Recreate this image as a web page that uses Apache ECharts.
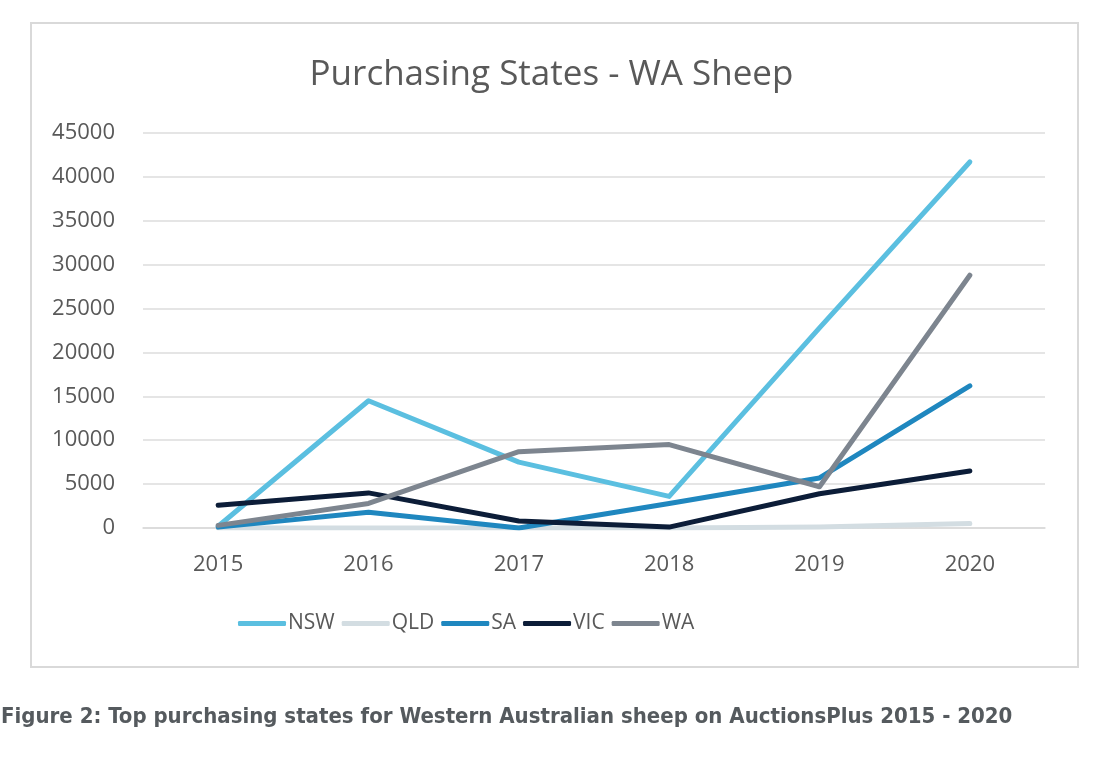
<!DOCTYPE html>
<html><head><meta charset="utf-8">
<script src="https://cdn.jsdelivr.net/npm/echarts@6/dist/echarts.min.js"></script>
<style>html,body{margin:0;padding:0;background:#fff;}#c{width:1103px;height:758px;}</style>
</head><body><div id="c"></div>
<script>
const years = ['2015','2016','2017','2018','2019','2020'];
const nsw = [200, 14500, 7500, 3600, 22800, 41700];
const qld = [0, 0, 0, 0, 100, 500];
const sa  = [100, 1800, 0, 2800, 5700, 16200];
const vic = [2600, 4000, 800, 100, 3900, 6500];
const wa  = [300, 2800, 8700, 9500, 4700, 28800];
const yTicks = [0, 5000, 10000, 15000, 20000, 25000, 30000, 35000, 40000, 45000];

const names = ['NSW','QLD','SA','VIC','WA'];
const colors = ['#5bbfe0','#d3dde2','#1f87bf','#0c1d38','#7d858f'];
const data = [nsw, qld, sa, vic, wa];

const chart = echarts.init(document.getElementById('c'));
chart.setOption({
  animation: false,
  title: {
    text: 'Purchasing States - WA Sheep',
    left: 'center', top: 53,
    textStyle: {fontFamily: 'Open Sans', fontSize: 35, fontWeight: 'normal', color: '#595959'}
  },
  legend: {
    data: names, bottom: 119, left: 233,
    itemWidth: 48, itemHeight: 5, itemGap: 7,
    icon: 'roundRect',
    textStyle: {fontFamily: 'Open Sans', fontSize: 21, color: '#595959', padding: [0,0,0,-3]}
  },
  grid: {left: 143, right: 58, top: 133, bottom: 230},
  xAxis: {
    type: 'category', data: years, boundaryGap: true,
    axisLine: {show: true, lineStyle: {color: '#d9d9d9', width: 1.5}},
    axisTick: {show: false},
    axisLabel: {fontFamily: 'Open Sans', fontSize: 22, color: '#595959', margin: 26}
  },
  yAxis: {
    type: 'value', min: yTicks[0], max: yTicks[yTicks.length-1], interval: 5000,
    axisLine: {show: false}, axisTick: {show: false},
    splitLine: {lineStyle: {color: '#dcdcdc', width: 1.5}},
    axisLabel: {fontFamily: 'Open Sans', fontSize: 22, color: '#595959', margin: 28,
      formatter: v => String(v)}
  },
  graphic: [
    {type: 'rect', shape: {x: 31, y: 23, width: 1047, height: 644}, style: {fill: 'none', stroke: '#d9d9d9', lineWidth: 2}, z: -1},
    {type: 'text', left: 1, top: 706, style: {text: 'Figure 2: Top purchasing states for Western Australian sheep on AuctionsPlus 2015 - 2020',
      font: 'bold 22px "Liberation Sans Narrow", "DejaVu Sans Condensed", sans-serif', fill: '#555a5e'}}
  ],
  series: names.map((n, i) => ({
    name: n, type: 'line', data: data[i], symbol: 'none',
    lineStyle: {width: 5, color: colors[i], cap: 'round', join: 'round'},
    itemStyle: {color: colors[i]},
    z: n === 'QLD' ? 1 : 2
  }))
});
</script></body></html>
